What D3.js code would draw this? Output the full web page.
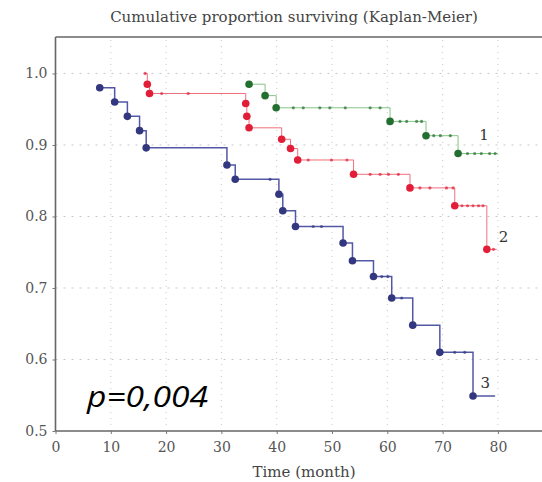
<!DOCTYPE html>
<html>
<head>
<meta charset="utf-8">
<script src="https://cdn.jsdelivr.net/npm/d3@7"></script>
<style>
  body { margin: 0; background: #fff; }
  svg { display: block; }
</style>
</head>
<body>
<div id="chart"></div>
<script>
// KM curves: time (month) of each event and survival after it
var xTicks = [0, 10, 20, 30, 40, 50, 60, 70, 80];
var yTicks = [0.5, 0.6, 0.7, 0.8, 0.9, 1.0];

var g1Times = [35.0, 37.9, 39.9, 60.5, 67.0, 72.8];
var g1Surv  = [0.985, 0.969, 0.952, 0.933, 0.913, 0.888];
var g1Censor = [43.0, 44.8, 47.8, 49.6, 52.4, 56.9, 58.7, 62.3, 63.5, 65.3, 66.2, 68.4, 69.6, 71.4, 74.5, 75.8, 77.0, 78.5, 79.5];
var g1End = 80.0;

var g2Times = [16.2, 16.6, 17.0, 34.4, 34.6, 35.0, 40.9, 42.5, 43.8, 53.9, 64.1, 72.2, 78.0];
var g2Surv  = [1.0, 0.985, 0.972, 0.958, 0.94, 0.924, 0.908, 0.895, 0.879, 0.859, 0.840, 0.815, 0.754];
var g2Censor = [16.2, 19.2, 24.0, 45.7, 49.9, 52.7, 56.9, 58.7, 60.2, 62.0, 65.9, 67.7, 70.7, 71.9, 73.5, 74.5, 75.5, 76.5, 77.3, 79.2];
var g2End = 79.8;

var g3Times = [8.0, 10.7, 13.0, 15.2, 16.4, 31.0, 32.5, 40.4, 41.1, 43.4, 52.0, 53.7, 57.5, 60.8, 64.6, 69.5, 75.5];
var g3Surv  = [0.98, 0.96, 0.94, 0.92, 0.896, 0.872, 0.852, 0.831, 0.808, 0.786, 0.763, 0.738, 0.716, 0.686, 0.648, 0.61, 0.549];
var g3Censor = [38.8, 46.6, 48.1, 59.0, 60.1, 62.6, 72.2, 74.0];
var g3End = 79.5;

var groupLabels = ["1", "2", "3"];

var width = 542, height = 482;
var margin = {top: 37, left: 55.5, bottom: 51};

var svg = d3.select("#chart").append("svg")
    .attr("width", width)
    .attr("height", height);

var x = d3.scaleLinear().domain([0, 90]).range([margin.left, margin.left + 90 * 5.53]);
var y = d3.scaleLinear().domain([0.5, 1.051]).range([height - margin.bottom, margin.top]);

// dotted grid
svg.append("g").selectAll("line")
    .data(d3.range(10, 100, 10))
    .enter().append("line")
    .attr("x1", function(d) { return x(d); })
    .attr("x2", function(d) { return x(d); })
    .attr("y1", y(0.5))
    .attr("y2", margin.top)
    .attr("stroke", "#c8c8c8")
    .attr("stroke-width", 1)
    .attr("stroke-dasharray", "1,5");

svg.append("g").selectAll("line")
    .data([0.6, 0.7, 0.8, 0.9, 1.0])
    .enter().append("line")
    .attr("x1", margin.left)
    .attr("x2", width)
    .attr("y1", function(d) { return y(d); })
    .attr("y2", function(d) { return y(d); })
    .attr("stroke", "#c8c8c8")
    .attr("stroke-width", 1)
    .attr("stroke-dasharray", "2,6");

// axes
var xAxis = d3.axisBottom(x).tickValues(xTicks).tickSize(3).tickFormat(d3.format("d"));
var yAxis = d3.axisLeft(y).tickValues(yTicks).tickSize(3).tickFormat(d3.format(".1f"));

var gx = svg.append("g")
    .attr("transform", "translate(0," + y(0.5) + ")")
    .call(xAxis);
gx.select(".domain").attr("d", "M" + margin.left + ",0H" + width);

var gy = svg.append("g")
    .attr("transform", "translate(" + margin.left + ",0)")
    .call(yAxis);
gy.select(".domain").attr("d", "M0," + margin.top + "V" + y(0.5));

svg.selectAll(".domain").attr("stroke", "#666").attr("stroke-width", 1.6);
svg.selectAll(".tick line").attr("stroke", "#777");
svg.selectAll(".tick text")
    .attr("fill", "#555")
    .style("font-family", "'DejaVu Serif', serif")
    .style("font-size", "14px");
gy.selectAll(".tick text").attr("x", -8);
gx.selectAll(".tick text").attr("y", 11);

// top frame line
svg.append("line")
    .attr("x1", margin.left).attr("x2", width)
    .attr("y1", margin.top).attr("y2", margin.top)
    .attr("stroke", "#666").attr("stroke-width", 1.6);

var groups = [
  {times: g3Times, surv: g3Surv, cens: g3Censor, end: g3End, line: "#5358a6", dot: "#33377f", lw: 1.5},
  {times: g2Times, surv: g2Surv, cens: g2Censor, end: g2End, line: "#f0707c", dot: "#e21d38", lw: 1},
  {times: g1Times, surv: g1Surv, cens: g1Censor, end: g1End, line: "#86c486", dot: "#236f30", lw: 1}
];

var line = d3.line()
    .x(function(d) { return x(d[0]); })
    .y(function(d) { return y(d[1]); })
    .curve(d3.curveStepAfter);

groups.forEach(function(g) {
    var pts = g.times.map(function(t, i) { return [t, g.surv[i]]; });
    pts.push([g.end, g.surv[g.surv.length - 1]]);

    svg.append("path")
        .attr("d", line(pts))
        .attr("fill", "none")
        .attr("stroke", g.line)
        .attr("stroke-width", g.lw);

    // survival at a censoring time
    var survAt = function(t) {
        var s = 1;
        g.times.forEach(function(tt, i) { if (tt <= t) s = g.surv[i]; });
        return s;
    };

    svg.append("g").selectAll("circle")
        .data(g.cens)
        .enter().append("circle")
        .attr("cx", function(d) { return x(d); })
        .attr("cy", function(d) { return y(survAt(d)); })
        .attr("r", 1.6)
        .attr("fill", g.dot)
        .attr("opacity", 0.7);

    svg.append("g").selectAll("circle")
        .data(pts.slice(0, -1).filter(function(d) { return d[1] < 1; }))
        .enter().append("circle")
        .attr("cx", function(d) { return x(d[0]); })
        .attr("cy", function(d) { return y(d[1]); })
        .attr("r", 3.8)
        .attr("fill", g.dot);
});

// curve labels
var labelPos = [[77.5, 0.907], [81, 0.765], [77.7, 0.56]];
svg.append("g").selectAll("text")
    .data(groupLabels)
    .enter().append("text")
    .attr("x", function(d, i) { return x(labelPos[i][0]); })
    .attr("y", function(d, i) { return y(labelPos[i][1]); })
    .attr("text-anchor", "middle")
    .style("font-family", "'DejaVu Serif', serif")
    .style("font-size", "15px")
    .attr("fill", "#333")
    .text(function(d) { return d; });

// title
svg.append("text")
    .attr("x", 294)
    .attr("y", 22)
    .attr("text-anchor", "middle")
    .style("font-family", "'DejaVu Serif', serif")
    .style("font-size", "15px")
    .attr("fill", "#444")
    .text("Cumulative proportion surviving (Kaplan-Meier)");

// x axis title
svg.append("text")
    .attr("x", 304)
    .attr("y", 477)
    .attr("text-anchor", "middle")
    .style("font-family", "'DejaVu Serif', serif")
    .style("font-size", "15px")
    .attr("fill", "#444")
    .text("Time (month)");

// p-value
svg.append("text")
    .attr("x", 87)
    .attr("y", 407)
    .attr("textLength", 121)
    .attr("lengthAdjust", "spacingAndGlyphs")
    .style("font-family", "'Open Sans', sans-serif")
    .style("font-style", "italic")
    .style("font-size", "30px")
    .attr("fill", "#000")
    .text("p=0,004");
</script>
</body>
</html>
